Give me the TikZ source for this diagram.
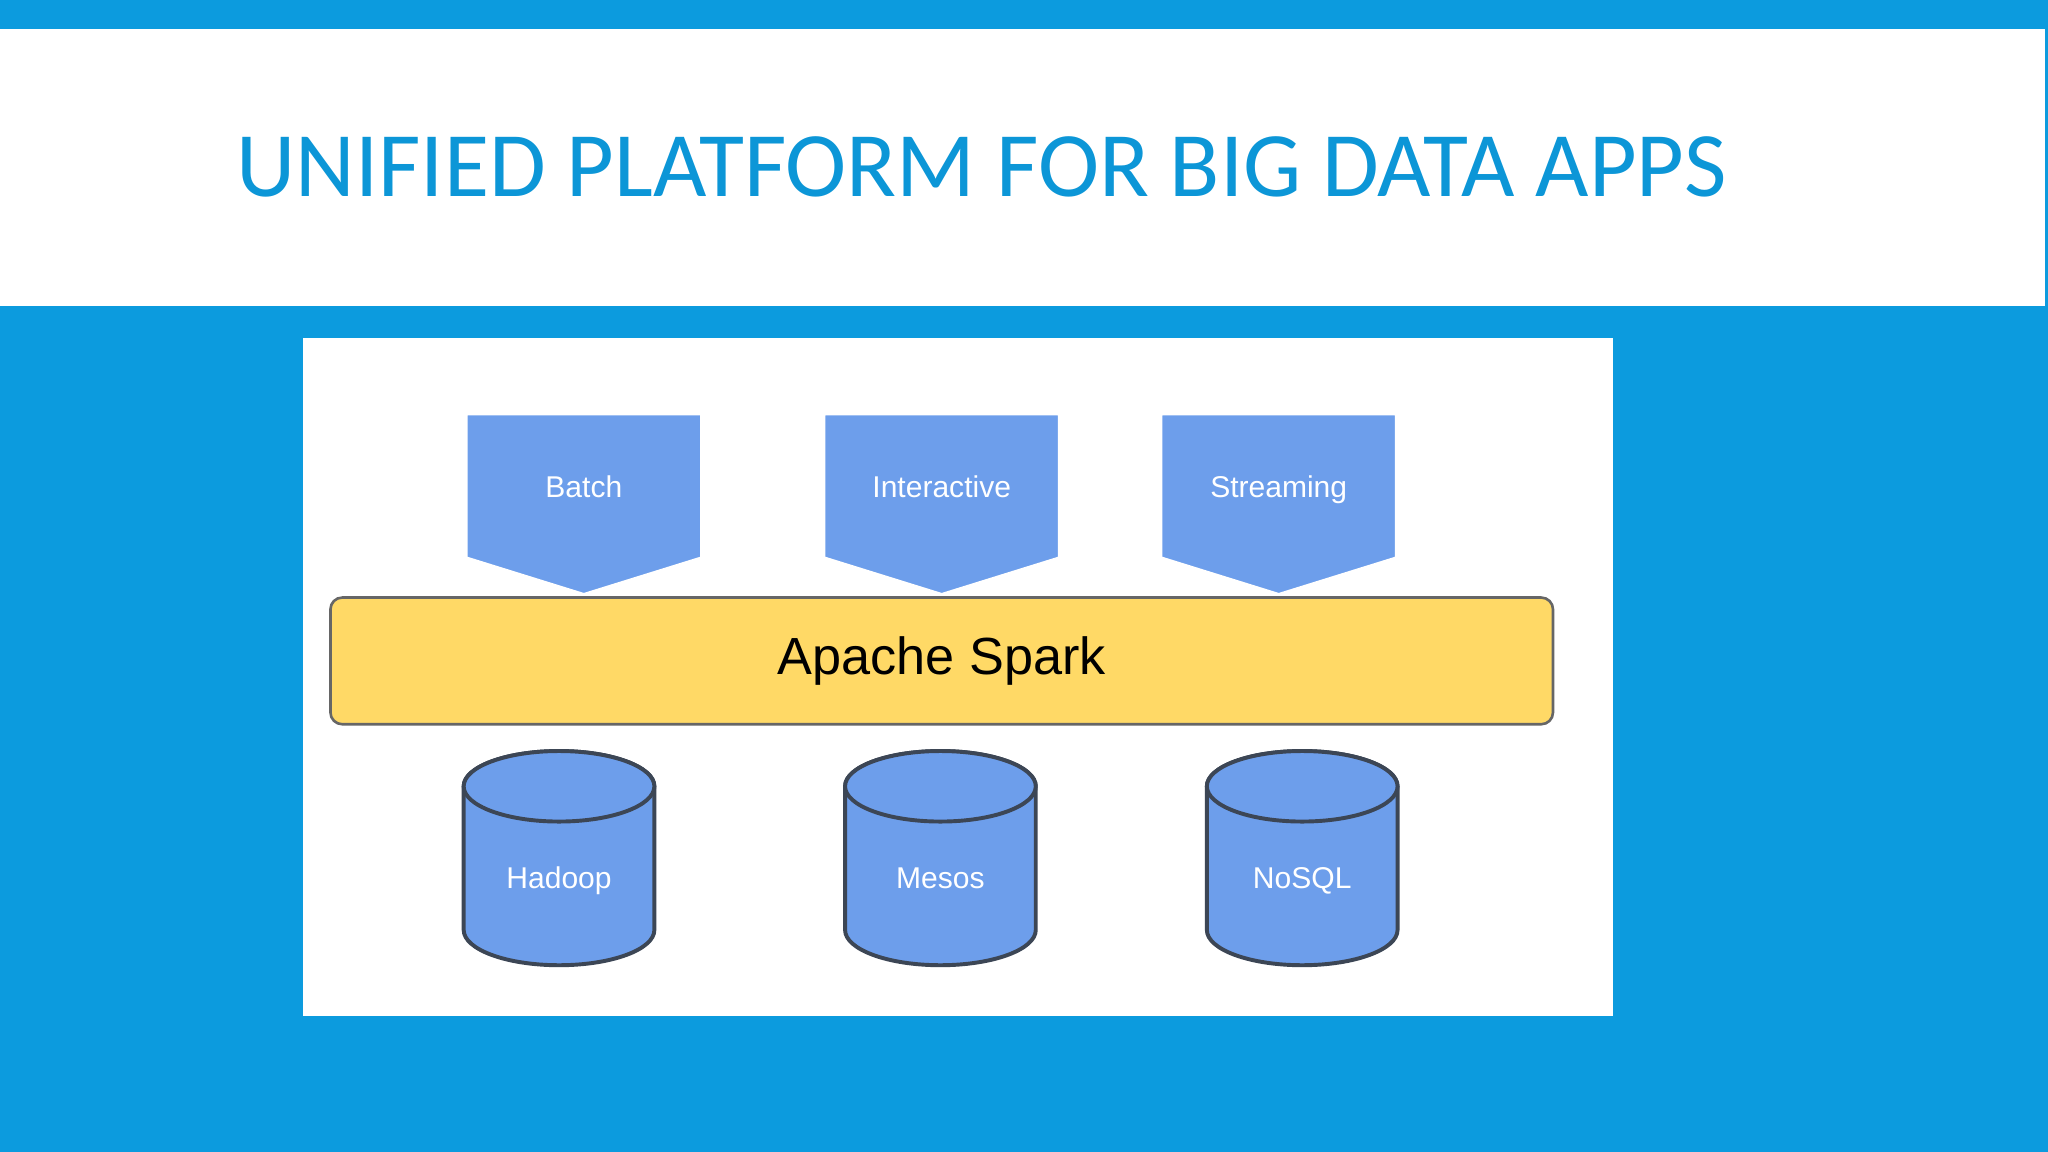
\documentclass[tikz,border=0pt]{standalone}
\usepackage{fontspec}
\setmainfont{Liberation Sans}
\newfontfamily\titlefont{Carlito}
\begin{document}
\begin{tikzpicture}[x=0.5pt,y=-0.5pt,
  slideblue/.style={fill={rgb,255:red,12;green,155;blue,222}},
  pent/.style={fill={rgb,255:red,109;green,158;blue,235},draw=white,line width=1},
  lab/.style={text=white,anchor=base,font=\fontsize{11.5}{13}\selectfont},
  cyl/.style={fill={rgb,255:red,109;green,158;blue,235},draw={rgb,255:red,60;green,70;blue,85},line width=1.5}]
\useasboundingbox (0,0) rectangle (1568,882);
\fill[slideblue] (0,0) rectangle (1568,882);
\fill[white] (0,22) rectangle (1566,234);
\node[anchor=west,text={rgb,255:red,12;green,150;blue,215},font=\titlefont\fontsize{35.3}{40}\selectfont] (title) at (174,128) {UNIFIED PLATFORM FOR BIG DATA APPS};
\fill[white] (232,259) rectangle (1235,778);
\foreach \x/\t/\n in {447/Batch/b,721/Interactive/i,979/Streaming/s}{
  \path[pent] (\x-90,317) -- (\x+90,317) -- (\x+90,427) -- (\x,455) -- (\x-90,427) -- cycle;
  \node[lab] (\n) at (\x,381) {\t};
}
\node[draw={rgb,255:red,102;green,102;blue,102},line width=1,fill={rgb,255:red,255;green,217;blue,102},rounded corners=4.5pt,minimum width=468pt,minimum height=48.5pt,font=\fontsize{20}{24}\selectfont] (spark) at (721,506) {Apache Spark};
\foreach \x/\t/\n in {428/Hadoop/h,720/Mesos/m,997/NoSQL/n}{
  \path[cyl] (\x-73,602) -- (\x-73,712) arc[start angle=180,end angle=0,x radius=73,y radius=27] -- (\x+73,602) arc[start angle=0,end angle=-180,x radius=73,y radius=27] -- cycle;
  \draw[cyl] (\x,602) ellipse[x radius=73,y radius=27];
  \node[lab] (\n) at (\x,680) {\t};
}
\end{tikzpicture}
\end{document}
